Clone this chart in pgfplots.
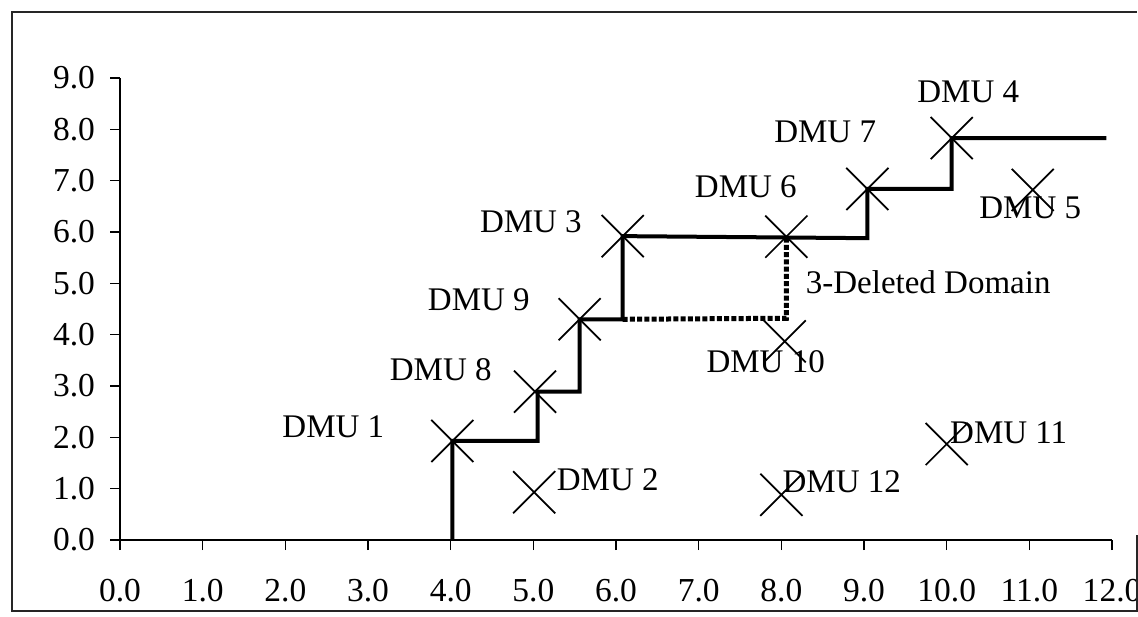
\documentclass[border=0pt]{standalone}
\usepackage{fontspec}
\setmainfont{Liberation Serif}
\usepackage{pgfplots}
\pgfplotsset{compat=1.18}
\newcommand{\lblfont}{\fontsize{13.2}{15}\selectfont}
\begin{document}
\begin{tikzpicture}
\begin{axis}[
  scale only axis, width=396.8pt, height=184.8pt,
  xmin=0, xmax=12, ymin=0, ymax=9,
  clip=false,
  axis lines=left,
  axis line style={-, line width=0.6pt, black},
  xtick={0,1,2,3,4,5,6,7,8,9,10,11,12},
  xticklabels={0.0,1.0,2.0,3.0,4.0,5.0,6.0,7.0,8.0,9.0,10.0,11.0,12.0},
  ytick={0,1,2,3,4,5,6,7,8,9},
  yticklabels={0.0,1.0,2.0,3.0,4.0,5.0,6.0,7.0,8.0,9.0},
  tick align=outside, major tick length=4pt,
  tick style={black, line width=0.6pt},
  tick label style={font=\fontsize{13.4}{15}\selectfont},
  xticklabel style={yshift=-8pt},
  yticklabel style={xshift=-2.5pt},
]
% frame
\draw[line width=0.6pt, black!85] (axis cs:12.30,10.286) -- (axis cs:-1.306,10.286) -- (axis cs:-1.306,-1.383) -- (axis cs:12.30,-1.383) -- (axis cs:12.30,0.097);
\coordinate (bbsw) at (axis cs:-1.452,-1.481);
\coordinate (bbne) at (axis cs:12.314,10.52);

% frontier
\addplot[black, line width=1.6pt, mark=none] coordinates {
  (4.02,0) (4.02,1.93) (5.05,1.93) (5.05,2.89) (5.56,2.89) (5.56,4.30)
  (6.08,4.30) (6.08,5.92) (9.04,5.88) (9.04,6.84) (10.06,6.84) (10.06,7.83) (11.93,7.83)
};
% 3-deleted domain
\addplot[black, line width=2pt, dash pattern=on 2pt off 0.9pt, mark=none] coordinates {
  (6.08,4.30) (8.06,4.32) (8.06,5.91)
};
% DMUs
\addplot[only marks, mark=x, mark size=11.9pt, mark options={line width=0.7pt, black}] coordinates {
  (4.02,1.93) (5.01,0.93) (6.08,5.92) (10.06,7.83) (11.04,6.82) (8.06,5.91)
  (9.04,6.84) (5.02,2.89) (5.56,4.30) (8.04,3.87) (10.0,1.87) (8.0,0.88)
};

\node[font=\lblfont] at (axis cs:2.58,2.20) {DMU 1};
\node[font=\lblfont] at (axis cs:5.90,1.17) {DMU 2};
\node[font=\lblfont] at (axis cs:4.97,6.20) {DMU 3};
\node[font=\lblfont] at (axis cs:10.26,8.73) {DMU 4};
\node[font=\lblfont] at (axis cs:11.01,6.47) {DMU 5};
\node[font=\lblfont] at (axis cs:7.57,6.88) {DMU 6};
\node[font=\lblfont] at (axis cs:8.53,7.95) {DMU 7};
\node[font=\lblfont] at (axis cs:3.88,3.31) {DMU 8};
\node[font=\lblfont] at (axis cs:4.34,4.68) {DMU 9};
\node[font=\lblfont] at (axis cs:7.81,3.47) {DMU 10};
\node[font=\lblfont] at (axis cs:10.75,2.08) {DMU 11};
\node[font=\lblfont] at (axis cs:8.73,1.13) {DMU 12};
\node[font=\lblfont, anchor=west, inner sep=0pt] at (axis cs:8.29,5.03) {3-Deleted Domain};
\end{axis}
\pgfresetboundingbox
\useasboundingbox (bbsw) rectangle (bbne);
\end{tikzpicture}
\end{document}
